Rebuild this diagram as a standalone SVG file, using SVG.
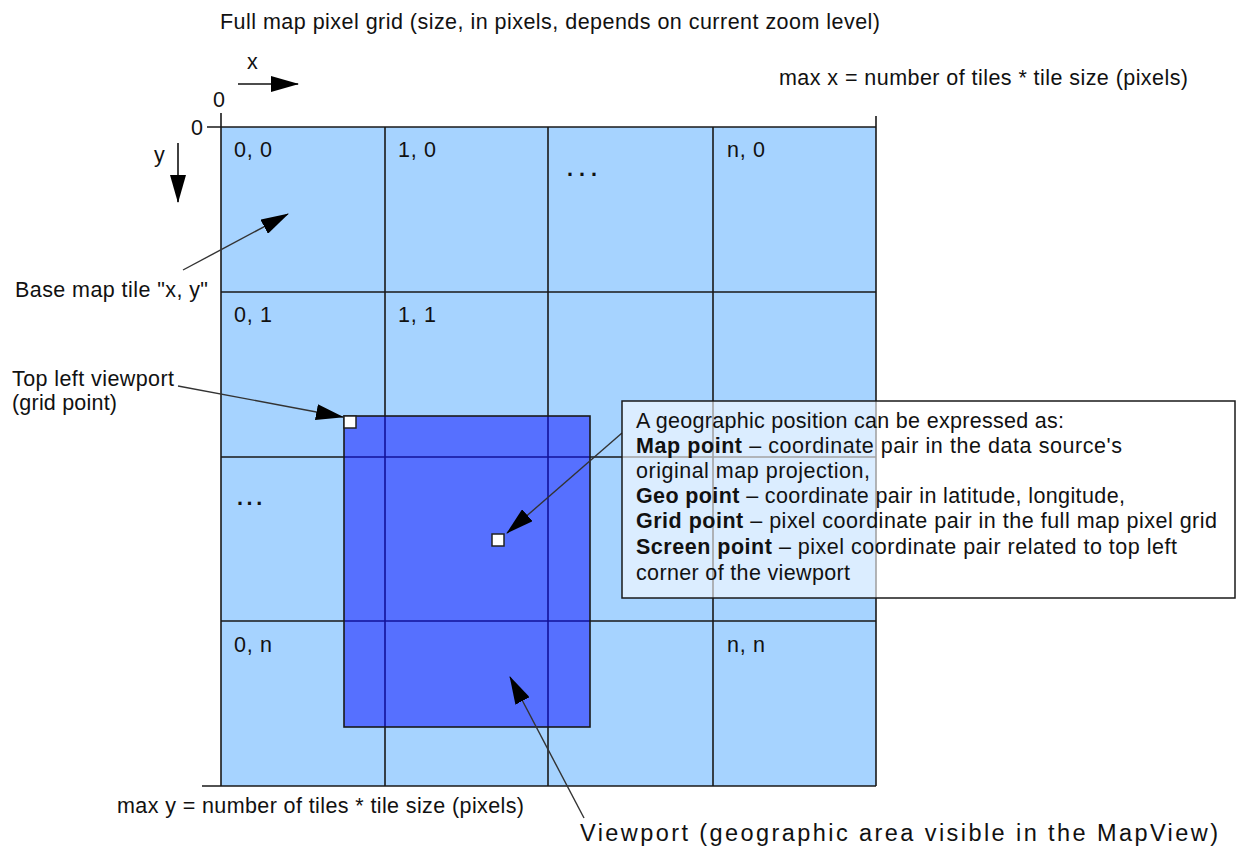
<svg xmlns="http://www.w3.org/2000/svg" width="1237" height="847" viewBox="0 0 1237 847">
<style>
text{font-family:"Liberation Sans",Arial,sans-serif;font-size:21.5px;fill:#111}
.vp{font-size:23.5px}
.g{stroke:#1a1a1a;stroke-width:1.6;fill:none}
.gi{stroke:#12129a;stroke-width:1.6;fill:none}
.c{stroke:#333;stroke-width:1.4;fill:none;marker-end:url(#ah)}
.ax{stroke:#111;stroke-width:1.6;fill:none;marker-end:url(#ah)}
.b{font-weight:bold}
.d{font-weight:bold}
</style>
<defs>
<marker id="ah" markerWidth="28" markerHeight="16" refX="27" refY="8" orient="auto" markerUnits="userSpaceOnUse">
<path d="M0,0 L28,8 L0,16 z" fill="#000"/>
</marker>
</defs>
<rect width="1237" height="847" fill="#fff"/>
<text x="220" y="29" textLength="660" lengthAdjust="spacing">Full map pixel grid (size, in pixels, depends on current zoom level)</text>
<text x="779" y="85" textLength="409" lengthAdjust="spacing">max x = number of tiles * tile size (pixels)</text>
<g id="axes">
<text x="247" y="69">x</text>
<text x="213" y="107">0</text>
<text x="191" y="135">0</text>
<text x="154" y="162">y</text>
<path class="ax" d="M238,84 L298,84"/>
<path class="ax" d="M178,143 L178,202"/>
</g>
<g id="grid">
<rect x="221" y="127" width="655" height="659" fill="#a6d3ff"/>
<path class="g" d="M207,127 H876 M202,786 H876 M221,292 H876 M221,457 H876 M221,621 H876 M221,113 V786 M385,127 V786 M548,127 V786 M713,127 V786 M876,116 V786"/>
<text x="234" y="157" textLength="38" lengthAdjust="spacing">0, 0</text>
<text x="398" y="157" textLength="38" lengthAdjust="spacing">1, 0</text>
<text class="d" x="567" y="176" letter-spacing="6">...</text>
<text x="727" y="157" textLength="38" lengthAdjust="spacing">n, 0</text>
<text x="234" y="322" textLength="38" lengthAdjust="spacing">0, 1</text>
<text x="398" y="322" textLength="38" lengthAdjust="spacing">1, 1</text>
<text class="d" x="237" y="505" letter-spacing="3.6">...</text>
<text x="234" y="652" textLength="38" lengthAdjust="spacing">0, n</text>
<text x="727" y="652" textLength="38" lengthAdjust="spacing">n, n</text>
</g>
<g id="viewport">
<rect x="344" y="416" width="246" height="311" fill="#5670ff"/>
<path class="gi" d="M385,416 V727 M548,416 V727 M344,457 H590 M344,621 H590"/>
<rect x="344" y="416" width="246" height="311" fill="none" stroke="#1a1a1a" stroke-width="1.6"/>
</g>
<g id="connectors">
<path class="c" d="M183,270 L288,214"/>
<path class="c" d="M178,386 L343,417"/>
<path class="c" d="M622,433 L507,533"/>
<path class="c" d="M584,818 L510,677"/>
</g>
<g id="points">
<rect x="344" y="416" width="12" height="12" fill="#fff" stroke="#222" stroke-width="1.5"/>
<rect x="492" y="534" width="12" height="12" fill="#fff" stroke="#222" stroke-width="1.5"/>
</g>
<g id="labels">
<text x="15" y="297" textLength="193" lengthAdjust="spacing">Base map tile "x, y"</text>
<text x="12" y="386" textLength="162" lengthAdjust="spacing">Top left viewport</text>
<text x="12" y="410" textLength="105" lengthAdjust="spacing">(grid point)</text>
<text x="117" y="813" textLength="407" lengthAdjust="spacing">max y = number of tiles * tile size (pixels)</text>
<text class="vp" x="580" y="841" textLength="638" lengthAdjust="spacing">Viewport (geographic area visible in the MapView)</text>
</g>
<g id="callout">
<rect x="622" y="401" width="613" height="197" fill="#fff" fill-opacity="0.6" stroke="#1a1a1a" stroke-width="1.5"/>
<text x="636" y="428" textLength="428" lengthAdjust="spacing">A geographic position can be expressed as:</text>
<text x="636" y="453" textLength="486" lengthAdjust="spacing"><tspan class="b">Map point</tspan> – coordinate pair in the data source's</text>
<text x="636" y="478" textLength="234" lengthAdjust="spacing">original map projection,</text>
<text x="636" y="503" textLength="489" lengthAdjust="spacing"><tspan class="b">Geo point</tspan> – coordinate pair in latitude, longitude,</text>
<text x="636" y="528" textLength="581" lengthAdjust="spacing"><tspan class="b">Grid point</tspan> – pixel coordinate pair in the full map pixel grid</text>
<text x="636" y="554" textLength="541" lengthAdjust="spacing"><tspan class="b">Screen point</tspan> – pixel coordinate pair related to top left</text>
<text x="636" y="580" textLength="214" lengthAdjust="spacing">corner of the viewport</text>
</g>
</svg>
